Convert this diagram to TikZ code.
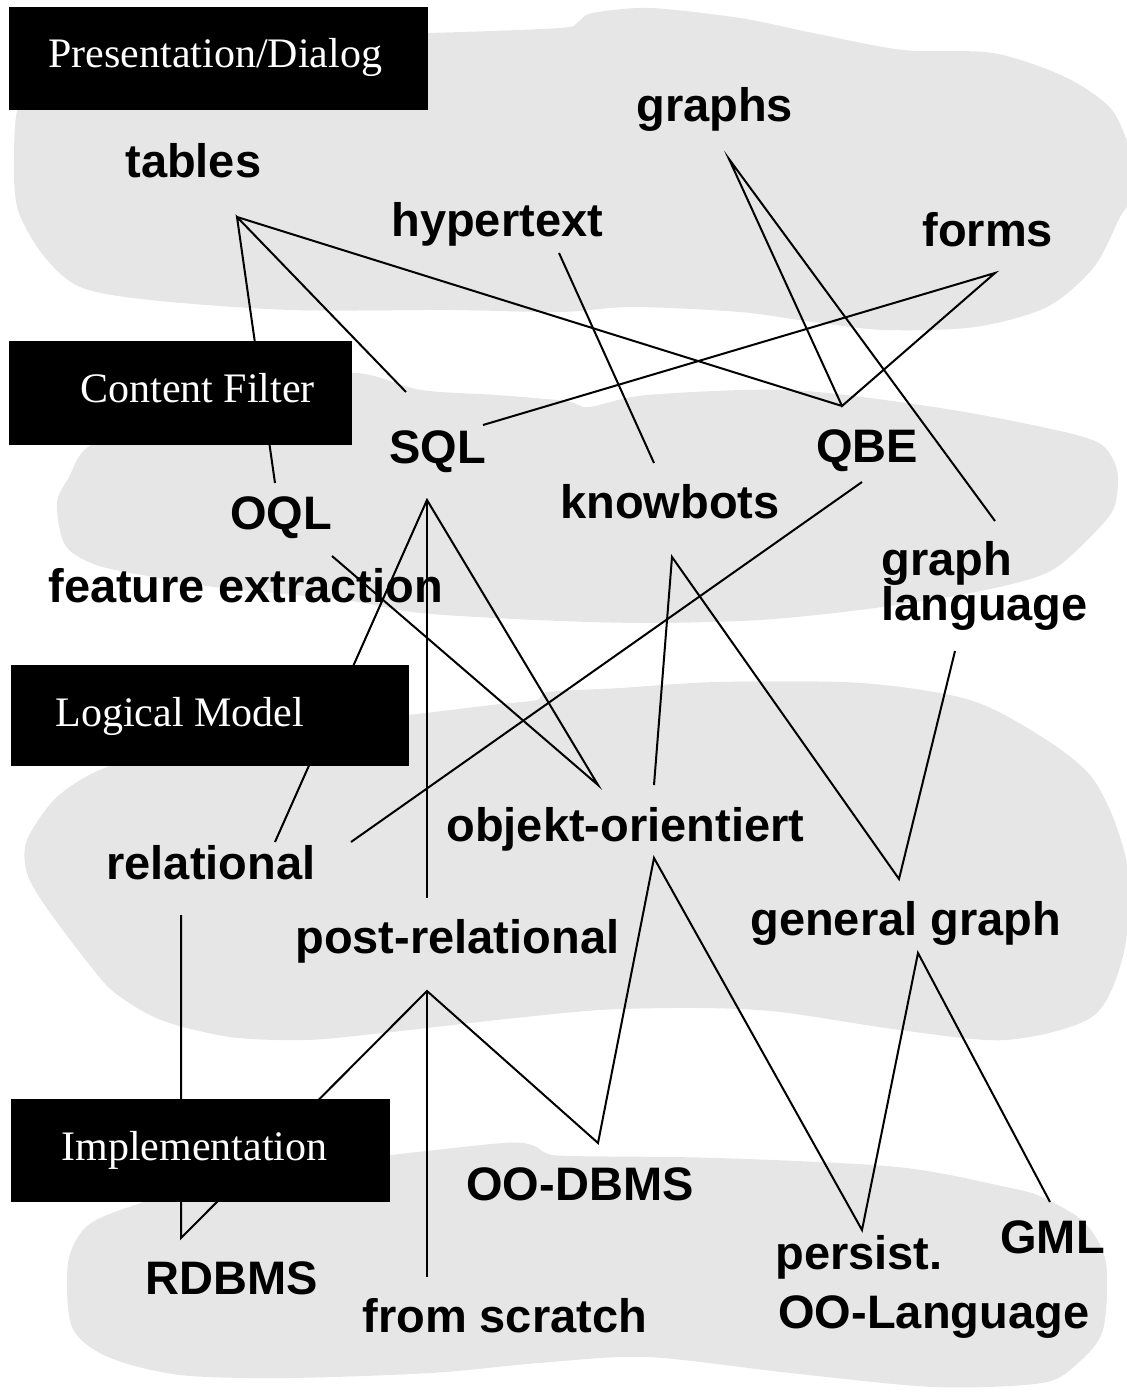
\documentclass[tikz,border=0pt]{standalone}
\usepackage{fontspec}
\setmainfont{Liberation Serif}
\newfontfamily\lblfont{Liberation Sans}
\definecolor{blobgray}{RGB}{230,230,230}
\begin{document}
\begin{tikzpicture}[x=0.5pt,y=-0.5pt,
  lbl/.style={inner sep=0pt, anchor=base west, font=\lblfont\bfseries\fontsize{23.5}{22.5}\selectfont, align=left},
  ttl/.style={inner sep=0pt, anchor=base west, text=white, font=\fontsize{21}{24}\selectfont},
  bbox/.style={fill=black, draw=none, inner sep=0pt, anchor=north west},
  blob/.style={fill=blobgray, draw=none},
  conn/.style={line width=1pt, line join=miter}]
\path[use as bounding box] (0,0) rectangle (1126,1396);

% background blobs
\fill[blob] plot[smooth cycle, tension=0.5] coordinates {
 (300,36) (430,33) (560,28) (578,22) (592,13) (650,8) (740,18) (813,33) (903,50) (993,53)
 (1065,77) (1112,110) (1132,160) (1130,200) (1120,217) (1094,267) (1047,307) (975,327)
 (885,330) (813,322) (740,312) (632,307) (560,312) (450,310) (290,310) (150,300) (80,287)
 (43,255) (18,210) (14,160) (20,100) (60,45) (150,38)};
\fill[blob] plot[smooth cycle, tension=0.5] coordinates {
 (352,373) (421,390) (497,395) (566,401) (589,407) (647,395) (790,390) (934,407) (1042,427)
 (1099,443) (1117,470) (1115,505) (1100,527) (1060,565) (1027,580) (960,595) (860,610)
 (760,620) (647,623) (536,620) (421,613) (344,600) (214,587) (153,577) (96,565) (65,545)
 (57,503) (69,477) (88,447) (150,420) (250,395)};
\fill[blob] plot[smooth cycle, tension=0.5] coordinates {
 (409,715) (500,704) (537,700) (548,692) (620,688) (718,682) (862,683) (970,700) (1042,737)
 (1090,775) (1116,825) (1130,885) (1122,960) (1092,1017) (1006,1040) (900,1030) (780,1012)
 (700,1008) (600,1010) (497,1020) (383,1033) (306,1040) (230,1037) (161,1020) (115,993)
 (88,963) (46,907) (27,873) (27,840) (57,797) (107,767) (200,745) (300,728)};
\fill[blob] plot[smooth cycle, tension=0.5] coordinates {
 (390,1155) (503,1143) (532,1145) (546,1153) (570,1156) (718,1158) (898,1167) (1006,1187)
 (1042,1197) (1085,1223) (1106,1263) (1103,1330) (1078,1363) (1042,1383) (934,1387)
 (790,1373) (647,1357) (539,1363) (431,1373) (287,1378) (180,1375) (108,1357) (72,1327)
 (68,1263) (86,1227) (129,1207) (250,1170)};

% connector end points
\coordinate (tablesA) at (237,217);
\coordinate (graphsA) at (729,159);
\coordinate (formsA) at (995,273);
\coordinate (hyperA) at (559,253);
\coordinate (oqlT) at (275,483);
\coordinate (sqlT) at (406,392);
\coordinate (sqlR) at (483,425);
\coordinate (qbeT) at (842,406);
\coordinate (knowT) at (654,463);
\coordinate (glangT) at (995,521);
\coordinate (sqlB) at (427,500);
\coordinate (oqlB) at (332,556);
\coordinate (qbeB) at (862,482);
\coordinate (knowB) at (672,557);
\coordinate (glangB) at (955,651);
\coordinate (relT) at (275,842);
\coordinate (relTR) at (351,842);
\coordinate (prelT) at (427,898);
\coordinate (objT) at (598,785);
\coordinate (objT2) at (654,785);
\coordinate (genT) at (899,879);
\coordinate (relB) at (181,915);
\coordinate (prelB) at (427,991);
\coordinate (objB) at (654,858);
\coordinate (genB) at (918,953);
\coordinate (rdbmsT) at (181,1238);
\coordinate (scratchT) at (427,1277);
\coordinate (oodbT) at (598,1143);
\coordinate (persT) at (862,1230);
\coordinate (gmlT) at (1050,1202);

% connectors
\draw[conn] (oqlT) -- (tablesA) -- (sqlT);
\draw[conn] (tablesA) -- (qbeT);
\draw[conn] (glangT) -- (graphsA) -- (qbeT) -- (formsA) -- (sqlR);
\draw[conn] (hyperA) -- (knowT);
\draw[conn] (relT) -- (sqlB) -- (objT) -- (oqlB);
\draw[conn] (sqlB) -- (prelT);
\draw[conn] (qbeB) -- (relTR);
\draw[conn] (objT2) -- (knowB) -- (genT) -- (glangB);
\draw[conn] (relB) -- (rdbmsT) -- (prelB) -- (oodbT) -- (objB) -- (persT) -- (genB) -- (gmlT);
\draw[conn] (prelB) -- (scratchT);

% labels
\node[lbl] (graphs) at (636,122) {graphs};
\node[lbl] (tables) at (125,178) {tables};
\node[lbl] (hypertext) at (391,236) {hypertext};
\node[lbl] (forms) at (922,247) {forms};
\node[lbl] (sql) at (389,463) {SQL};
\node[lbl] (qbe) at (816,462) {QBE};
\node[lbl] (oql) at (230,529) {OQL};
\node[lbl] (knowbots) at (560,518) {knowbots};
\node[lbl] (feature) at (48,602) {feature extraction};
\node[lbl] (graphlang) at (881,620) {graph\\language};
\node[lbl] (relational) at (106,879) {relational};
\node[lbl] (objekt) at (446,841) {objekt-orientiert};
\node[lbl] (postrel) at (295,953) {post-relational};
\node[lbl] (general) at (750,935) {general graph};
\node[lbl] (oodbms) at (466,1200) {OO-DBMS};
\node[lbl] (rdbms) at (145,1294) {RDBMS};
\node[lbl] (scratch) at (362,1332) {from scratch};
\node[lbl] (persist) at (775,1269) {persist.};
\node[lbl] (oolang) at (778,1328) {OO-Language};
\node[lbl] (gml) at (1000,1253) {GML};

% black title boxes
\node[bbox, minimum width=209.5pt, minimum height=51.5pt] (presbox) at (9,7) {};
\node[ttl] (prestxt) at (48,68) {Presentation/Dialog};
\node[bbox, minimum width=171.5pt, minimum height=52pt] (contbox) at (9,341) {};
\node[ttl] (conttxt) at (80,402) {Content Filter};
\node[bbox, minimum width=199pt, minimum height=50.5pt] (logbox) at (11,665) {};
\node[ttl] (logtxt) at (55,726) {Logical Model};
\node[bbox, minimum width=189.5pt, minimum height=51.5pt] (impbox) at (11,1099) {};
\node[ttl] (imptxt) at (61,1160) {Implementation};
\end{tikzpicture}
\end{document}
